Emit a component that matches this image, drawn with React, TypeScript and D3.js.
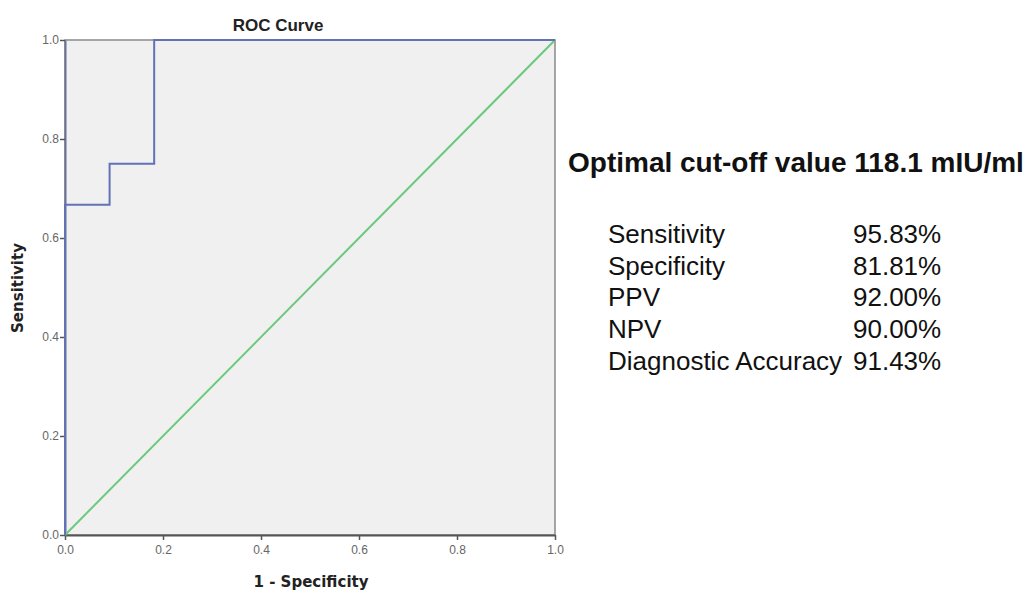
import * as d3 from "d3";
import React, { useEffect, useRef } from "react";

// ROC curve vertices (1 - specificity, sensitivity)
const rocFpr = [0, 0, 0.091, 0.091, 0.182, 0.182, 1];
const rocTpr = [0, 0.667, 0.667, 0.75, 0.75, 1, 1];
// reference diagonal
const refFpr = [0, 1];
const refTpr = [0, 1];

const tickValues = [0, 0.2, 0.4, 0.6, 0.8, 1.0];

const cutoffTitle = "Optimal cut-off value 118.1 mIU/ml";
const statLabels = ["Sensitivity", "Specificity", "PPV", "NPV", "Diagnostic Accuracy"];
const statValues = ["95.83%", "81.81%", "92.00%", "90.00%", "91.43%"];

const App: React.FC = () => {
  const svgRef = useRef<SVGSVGElement | null>(null);

  useEffect(() => {
    const width = 1030;
    const height = 592;
    const margin = { top: 40, right: 475, bottom: 57, left: 65 };
    const chartWidth = width - margin.left - margin.right;
    const chartHeight = height - margin.top - margin.bottom;

    const svg = d3.select(svgRef.current);
    svg.selectAll("*").remove();
    svg.attr("width", width).attr("height", height);

    const g = svg.append("g").attr("transform", `translate(${margin.left}, ${margin.top})`);

    const xScale = d3.scaleLinear().domain([0, 1]).range([0, chartWidth]);
    const yScale = d3.scaleLinear().domain([0, 1]).range([chartHeight, 0]);

    // plot background + frame
    g.append("rect")
      .attr("x", 0)
      .attr("y", 0)
      .attr("width", chartWidth)
      .attr("height", chartHeight)
      .attr("fill", "#f0f0f0")
      .attr("stroke", "#8a8a8a")
      .attr("stroke-width", 1.5);

    // axes
    const xAxis = g
      .append("g")
      .attr("transform", `translate(0, ${chartHeight})`)
      .call(d3.axisBottom(xScale).tickValues(tickValues).tickSize(5).tickSizeOuter(0).tickFormat(d3.format(".1f")));
    const yAxis = g
      .append("g")
      .call(d3.axisLeft(yScale).tickValues(tickValues).tickSize(5).tickSizeOuter(0).tickFormat(d3.format(".1f")));

    [xAxis, yAxis].forEach((ax) => {
      ax.select(".domain").attr("stroke", "#555").attr("stroke-width", 2);
      ax.selectAll(".tick line").attr("stroke", "#555").attr("stroke-width", 1.5);
      ax.selectAll(".tick text")
        .attr("fill", "#666")
        .attr("font-family", "Liberation Sans, Arial, sans-serif")
        .attr("font-size", "12px");
    });
    yAxis.select(".domain").attr("stroke", "#6a7196");
    yAxis.selectAll(".tick text").attr("x", -6);
    xAxis.selectAll(".tick text").attr("dy", "0.95em");

    const pathGen = d3
      .line<[number, number]>()
      .x((d) => xScale(d[0]))
      .y((d) => yScale(d[1]));

    // diagonal reference line
    g.append("path")
      .attr("fill", "none")
      .attr("stroke", "#6cc87c")
      .attr("stroke-width", 2)
      .attr("d", pathGen(refFpr.map((x, i) => [x, refTpr[i]] as [number, number]))!);

    // ROC curve
    g.append("path")
      .attr("fill", "none")
      .attr("stroke", "#6172b6")
      .attr("stroke-width", 2)
      .attr("d", pathGen(rocFpr.map((x, i) => [x, rocTpr[i]] as [number, number]))!);

    // title
    svg
      .append("text")
      .attr("x", 278)
      .attr("y", 31)
      .attr("text-anchor", "middle")
      .attr("font-family", "Liberation Sans, Arial, sans-serif")
      .attr("font-weight", "bold")
      .attr("font-size", "17px")
      .attr("fill", "#222")
      .text("ROC Curve");

    // axis titles
    svg
      .append("text")
      .attr("x", 311)
      .attr("y", 587)
      .attr("text-anchor", "middle")
      .attr("font-family", "DejaVu Sans, sans-serif")
      .attr("font-weight", "bold")
      .attr("font-size", "15px")
      .attr("fill", "#222")
      .text("1 - Specificity");

    svg
      .append("text")
      .attr("transform", `translate(23, 288) rotate(-90)`)
      .attr("text-anchor", "middle")
      .attr("font-family", "DejaVu Sans, sans-serif")
      .attr("font-weight", "bold")
      .attr("font-size", "15px")
      .attr("fill", "#222")
      .text("Sensitivity");

    // cut-off summary
    svg
      .append("text")
      .attr("x", 568)
      .attr("y", 172)
      .attr("font-family", "Liberation Sans, Arial, sans-serif")
      .attr("font-weight", "bold")
      .attr("font-size", "28px")
      .attr("fill", "#111")
      .text(cutoffTitle);

    const stats = svg
      .append("g")
      .attr("font-family", "Liberation Sans, Arial, sans-serif")
      .attr("font-size", "26px")
      .attr("fill", "#111");
    stats
      .selectAll("text.label")
      .data(statLabels)
      .enter()
      .append("text")
      .attr("class", "label")
      .attr("x", 608)
      .attr("y", (_, i) => 243 + i * 31.7)
      .text((d) => d);
    stats
      .selectAll("text.value")
      .data(statValues)
      .enter()
      .append("text")
      .attr("class", "value")
      .attr("x", 853)
      .attr("y", (_, i) => 243 + i * 31.7)
      .text((d) => d);
  }, []);

  return (
    <div style={{ position: "absolute", left: 0, top: 0 }}>
      <svg ref={svgRef} style={{ display: "block" }}></svg>
    </div>
  );
};

export default App;
